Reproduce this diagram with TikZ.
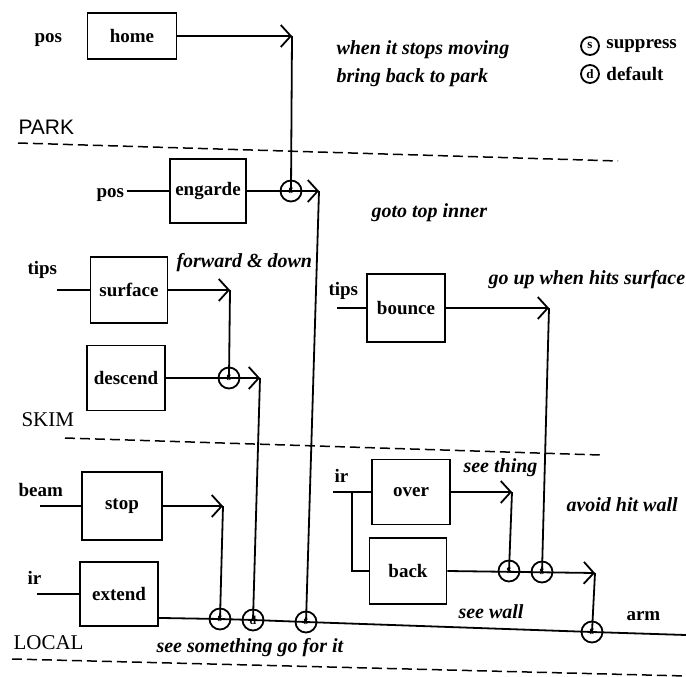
\documentclass[tikz,border=0pt]{standalone}
\usepackage{fontspec}
\setmainfont{Liberation Serif}
\setsansfont{Liberation Sans}
\usetikzlibrary{arrows.meta, calc}

\begin{document}
\begin{tikzpicture}[x=1pt, y=-1pt,
    font=\fontsize{19}{21}\selectfont\bfseries,
    box/.style={rectangle, draw, line width=1.9pt, inner sep=0pt},
    junc/.style={circle, draw, line width=1.8pt, minimum size=21pt, inner sep=0pt, font=\fontsize{12}{12}\selectfont\bfseries},
    note/.style={anchor=west, font=\fontsize{20}{22}\selectfont\bfseries\itshape},
    lbl/.style={anchor=west},
    layerlbl/.style={anchor=west, font=\fontsize{21}{23}\selectfont},
    wire/.style={line width=1.8pt},
    arr/.style={line width=1.8pt, -{Straight Barb[length=10pt, width=22pt, line width=1.8pt]}},
    layer/.style={line width=1.5pt, dash pattern=on 10pt off 5pt}
]
\useasboundingbox (0,0) rectangle (686,677);

% Legend
\node[junc, minimum size=18pt, font=\fontsize{13}{13}\selectfont\bfseries] (legS) at (590,46) {s};
\node[lbl, right=3pt] at (legS.east) {suppress};
\node[junc, minimum size=18pt, font=\fontsize{13}{13}\selectfont\bfseries] (legD) at (590,74) {d};
\node[lbl, right=3pt] at (legD.east) {default};

% Layer PARK
\node[box, minimum width=89pt, minimum height=46pt] (home) at (132,36) {home};
\node[lbl] (posA) at (31,40) {pos};
\node[note] at (333,50) {when it stops moving};
\node[note] at (333,78) {bring back to park};
\node[layerlbl, font=\sffamily\fontsize{21}{23}\selectfont] (park) at (15,127) {PARK};
\draw[layer] (18,143) -- (618,161);

% Layer SKIM
\node[box, minimum width=76pt, minimum height=64pt] (engarde) at (208,191) {engarde};
\node[lbl] (posB) at (93,195) {pos};
\coordinate (sPos) at (127,191);
\node[note] at (368,213) {goto top inner};

\node[box, minimum width=77pt, minimum height=66pt] (surface) at (129,290) {surface};
\node[lbl] (tipsA) at (24,270) {tips};
\coordinate (sTipsA) at (57,290);
\node[note] at (173,263) {forward \& down};

\node[box, minimum width=78pt, minimum height=65pt] (descend) at (126,378) {descend};

\node[box, minimum width=78pt, minimum height=68pt] (bounce) at (406,308) {bounce};
\node[lbl] (tipsB) at (325,291) {tips};
\coordinate (sTipsB) at (337,308);
\node[note] at (485,280) {go up when hits surface};

\node[layerlbl] (skim) at (18,420) {SKIM};
\draw[layer] (65,438) -- (600,455);

% Layer LOCAL
\node[box, minimum width=80pt, minimum height=68pt] (stop) at (122,506) {stop};
\node[lbl] (beam) at (15,490) {beam};
\coordinate (sBeam) at (40,506);

\node[box, minimum width=78pt, minimum height=64pt] (extend) at (119,594) {extend};
\node[lbl] (irA) at (24,578) {ir};
\coordinate (sIrA) at (37,594);

\node[box, minimum width=78pt, minimum height=65pt] (over) at (411,492) {over};
\node[box, minimum width=77pt, minimum height=66pt] (back) at (408,571) {back};
\node[lbl] (irB) at (331,476) {ir};
\coordinate (sIrB) at (333,492);
\coordinate (bIrB) at (352,492);
\node[note] at (460,468) {see thing};
\node[note] at (455,612) {see wall};
\node[note] at (563,505) {avoid hit wall};
\node[lbl] (arm) at (623,616) {arm};
\node[note] at (153,648) {see something go for it};

\node[layerlbl] (local) at (10,643) {LOCAL};
\draw[layer] (12,659) -- (686,676);

% Junctions
\node[junc] (jEng) at (291,191) {\raisebox{-4pt}{s}};
\node[junc] (jDesc) at (229,378) {\raisebox{-4pt}{s}};
\node[junc] (jOver) at (509,571) {\raisebox{-4pt}{s}};
\node[junc] (jBounce) at (542,572) {\raisebox{-4pt}{s}};
\node[junc] (jStop) at (220,619) {\raisebox{-4pt}{s}};
\node[junc] (jSkim) at (253,620) {\raisebox{-4pt}{d}};
\node[junc] (jPark) at (306,622) {\raisebox{-4pt}{s}};
\node[junc] (jArm) at (592,632) {\raisebox{-4pt}{s}};

% Corners
\coordinate (cHome) at (292,36);
\coordinate (cEng) at (319,191);
\coordinate (cSurf) at (230,290);
\coordinate (cDesc) at (260,378);
\coordinate (cBounce) at (549,308);
\coordinate (cStop) at (223,506);
\coordinate (cOver) at (512,492);
\coordinate (cBack) at (595,573);
\coordinate (sExt) at ($(extend.south east)+(0,-9)$);
\coordinate (eArm) at (686,635);

% Inputs
\begin{scope}[every path/.style={wire}]
    \draw (sPos) -- (engarde.west);
    \draw (sTipsA) -- (surface.west);
    \draw (sTipsB) -- (bounce.west);
    \draw (sBeam) -- (stop.west);
    \draw (sIrA) -- (extend.west);
    \draw (sIrB) -- (over.west);
    \draw (bIrB) |- (back.west);
\end{scope}

% Outputs
\draw[arr] (home.east) -- (cHome);
\draw[wire] (cHome) -- (jEng.center);
\draw[arr] (engarde.east) -- (cEng);
\draw[wire] (cEng) -- (jPark.center);
\draw[arr] (surface.east) -- (cSurf);
\draw[wire] (cSurf) -- (jDesc.center);
\draw[arr] (descend.east) -- (cDesc);
\draw[wire] (cDesc) -- (jSkim.center);
\draw[arr] (bounce.east) -- (cBounce);
\draw[wire] (cBounce) -- (jBounce.center);
\draw[arr] (stop.east) -- (cStop);
\draw[wire] (cStop) -- (jStop.center);
\draw[arr] (over.east) -- (cOver);
\draw[wire] (cOver) -- (jOver.center);
\draw[arr] (back.east) -- (cBack);
\draw[wire] (cBack) -- (jArm.center);
\draw[wire] (sExt) -- (jStop.center) -- (jSkim.center) -- (jPark.center) -- (jArm.center) -- (eArm);

\end{tikzpicture}
\end{document}
